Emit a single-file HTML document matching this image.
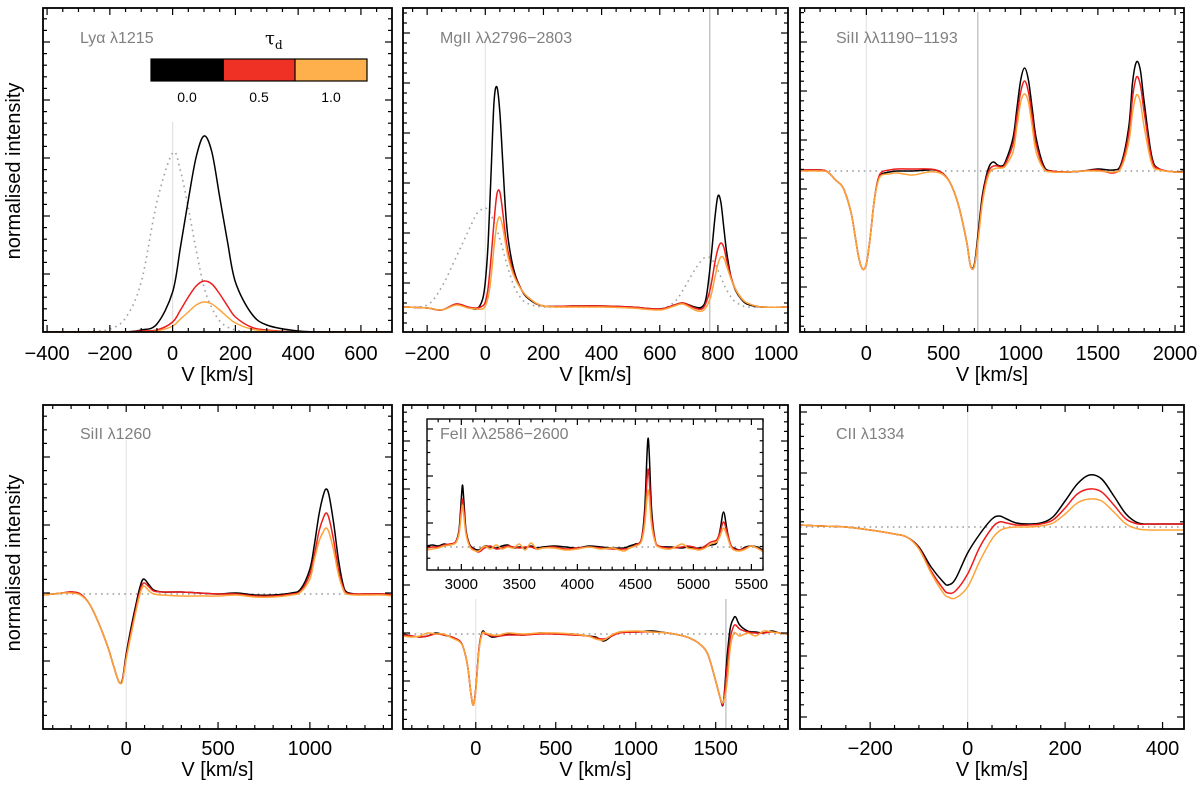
<!DOCTYPE html>
<html><head><meta charset="utf-8"><title>Line profiles</title>
<style>
html,body{margin:0;padding:0;background:#fff;}
svg{display:block;font-family:"Liberation Sans",Arial,sans-serif;}
</style></head>
<body>
<svg id="fig" width="1200" height="791" viewBox="0 0 1200 791" xmlns="http://www.w3.org/2000/svg">
<rect x="0" y="0" width="1200" height="791" fill="#fff"/>
<text transform="translate(20,171) rotate(-90)" text-anchor="middle" font-size="20">normalised intensity</text>
<text transform="translate(20,563) rotate(-90)" text-anchor="middle" font-size="20">normalised intensity</text>
<g id="legend">
  <text x="265" y="44" font-size="18" font-family="'DejaVu Serif',serif">τ<tspan font-size="12" dy="5">d</tspan></text>
  <rect x="151" y="59" width="73" height="22" fill="#000"/>
  <rect x="224" y="59" width="71" height="22" fill="#ee3124"/>
  <rect x="295" y="59" width="72" height="22" fill="#fdb04b"/>
  <rect x="151" y="59" width="216" height="22" fill="none" stroke="#000" stroke-width="1.2"/>
  <line x1="295" y1="59" x2="295" y2="81" stroke="#000" stroke-width="1.2"/>
  <text x="187" y="102" font-size="14" text-anchor="middle">0.0</text>
  <text x="259" y="102" font-size="14" text-anchor="middle">0.5</text>
  <text x="331" y="102" font-size="14" text-anchor="middle">1.0</text>
</g>
</svg>
<script>
// ---------- Panel 1: Lya ----------
const vP1=[-413,-300,-250,-200,-150,-100,-50,0,25,50,75,100,125,150,175,200,250,300,400,500,699];
const blackP1=[0,0,0,0,0,.02,.08,.4,.85,1.32,1.75,1.96,1.8,1.35,.9,.5,.19,.07,.01,0,0];
const redP1=[0,0,0,0,0,.01,.02,.1,.22,.35,.46,.51,.48,.38,.26,.15,.05,.02,0,0,0];
const orangeP1=[0,0,0,0,0,0,.01,.06,.13,.2,.27,.30,.28,.22,.15,.09,.03,.01,0,0,0];
const dotP1=[0,0,.01,.03,.14,.5,1.3,1.79,1.61,1.24,.82,.45,.24,.11,.05,.02,0,0,0,0,0];
const ticksP1=[-400,-200,0,200,400,600];
// ---------- Panel 2: MgII ----------
const vP2=[-283,-200,-150,-100,-60,-30,-10,0,10,20,30,40,50,60,70,80,100,125,150,200,300,400,500,600,650,680,720,745,760,775,790,800,810,820,830,845,860,880,900,950,1041];
const blackP2=[.25,.24,.22,.28,.25,.23,.32,.5,.9,1.6,2.3,2.45,2.2,1.7,1.2,.9,.6,.42,.33,.26,.26,.26,.25,.23,.27,.29,.25,.25,.35,.7,1.15,1.36,1.3,1.05,.8,.55,.42,.33,.28,.25,.25];
const redP2=[.25,.24,.22,.28,.25,.24,.26,.3,.45,.75,1.1,1.38,1.4,1.2,.95,.78,.57,.42,.34,.26,.26,.26,.25,.23,.27,.29,.24,.23,.3,.45,.7,.83,.89,.85,.72,.55,.43,.34,.29,.25,.25];
const orangeP2=[.25,.24,.22,.27,.24,.23,.23,.26,.35,.55,.85,1.08,1.15,1.05,.88,.73,.55,.42,.34,.26,.25,.25,.24,.22,.26,.28,.22,.21,.25,.35,.55,.68,.75,.74,.66,.53,.43,.34,.29,.25,.25];
const dotP2=[.25,.27,.45,.75,1.0,1.18,1.23,1.24,1.22,1.17,1.1,1.02,.93,.83,.72,.62,.45,.33,.28,.25,.25,.25,.24,.23,.3,.42,.62,.72,.75,.74,.68,.62,.55,.48,.42,.35,.3,.27,.25,.25,.25];
const ticksP2=[-200,0,200,400,600,800,1000];
// ---------- Panel 3: SiII 1190-1193 ----------
const vP3=[-430,-300,-250,-200,-150,-100,-75,-50,-25,0,25,50,75,100,150,200,300,400,450,500,550,600,650,675,700,725,750,775,800,825,850,875,900,950,975,1000,1025,1050,1075,1100,1150,1200,1300,1400,1500,1600,1650,1700,1725,1750,1775,1800,1850,1900,2000,2058];
const blackP3=[1.62,1.62,1.60,1.52,1.44,1.20,.98,.75,.63,.68,.95,1.3,1.52,1.58,1.6,1.61,1.61,1.62,1.62,1.58,1.47,1.25,.9,.66,.68,1.0,1.35,1.55,1.67,1.70,1.67,1.66,1.7,1.94,2.23,2.52,2.64,2.52,2.23,1.94,1.66,1.61,1.6,1.61,1.63,1.62,1.68,2.05,2.5,2.7,2.62,2.3,1.75,1.63,1.6,1.61];
const redP3=[1.62,1.62,1.60,1.52,1.44,1.20,.98,.75,.63,.68,.95,1.3,1.52,1.6,1.62,1.63,1.63,1.63,1.62,1.58,1.47,1.25,.9,.66,.66,.95,1.3,1.52,1.63,1.66,1.66,1.65,1.68,1.88,2.15,2.4,2.51,2.4,2.15,1.88,1.64,1.61,1.6,1.61,1.62,1.59,1.66,1.98,2.35,2.55,2.47,2.2,1.72,1.63,1.6,1.6];
const orangeP3=[1.61,1.61,1.6,1.52,1.44,1.2,.98,.75,.63,.68,.95,1.3,1.5,1.57,1.58,1.59,1.57,1.6,1.6,1.57,1.47,1.25,.9,.66,.66,.93,1.27,1.48,1.6,1.63,1.64,1.64,1.66,1.8,2.05,2.3,2.38,2.3,2.05,1.8,1.63,1.6,1.6,1.61,1.61,1.6,1.64,1.9,2.2,2.37,2.3,2.05,1.68,1.62,1.6,1.6];
const contP3=1.61;
const ticksP3=[0,500,1000,1500,2000];
// ---------- Panel 4: SiII 1260 ----------
const vP4=[-453,-400,-350,-300,-250,-200,-150,-100,-75,-50,-35,-20,0,25,50,75,95,125,150,200,300,400,500,600,700,800,900,950,1000,1025,1050,1075,1090,1105,1130,1155,1180,1200,1250,1300,1400,1447];
const blackP4=[1.34,1.35,1.36,1.37,1.35,1.25,1.06,.82,.67,.52,.46,.5,.75,1.0,1.22,1.42,1.50,1.44,1.39,1.37,1.37,1.36,1.35,1.36,1.34,1.34,1.36,1.4,1.6,1.85,2.15,2.35,2.40,2.33,2.05,1.7,1.45,1.37,1.35,1.35,1.35,1.34];
const redP4=[1.34,1.35,1.36,1.37,1.35,1.25,1.06,.82,.67,.52,.46,.49,.72,.96,1.18,1.38,1.46,1.42,1.38,1.37,1.37,1.36,1.35,1.35,1.33,1.33,1.35,1.38,1.55,1.75,1.98,2.12,2.16,2.1,1.88,1.6,1.42,1.36,1.35,1.35,1.35,1.34];
const orangeP4=[1.34,1.35,1.36,1.36,1.34,1.25,1.06,.82,.67,.52,.46,.48,.7,.93,1.15,1.35,1.43,1.38,1.35,1.34,1.33,1.33,1.33,1.34,1.32,1.32,1.34,1.37,1.5,1.7,1.88,1.98,2.01,1.96,1.78,1.55,1.40,1.35,1.34,1.34,1.34,1.33];
const contP4=1.35;
const ticksP4=[0,500,1000];
// ---------- Panel 5: FeII ----------
const vP5=[-455,-400,-350,-300,-250,-200,-150,-100,-75,-50,-30,-15,0,20,40,60,100,150,200,300,400,500,600,700,750,800,850,900,1000,1100,1200,1300,1350,1400,1450,1500,1530,1548,1570,1590,1610,1625,1650,1700,1750,1800,1850,1900,1952];
const blackP5=[.95,.93,.92,.93,.96,.94,.92,.88,.8,.62,.35,.24,.4,.8,.97,.96,.92,.93,.95,.94,.96,.95,.95,.93,.92,.88,.93,.97,.97,.98,.96,.93,.9,.85,.75,.48,.3,.26,.7,1.0,1.1,1.12,1.04,.98,.97,.96,.98,.96,.95];
const redP5=[.94,.93,.92,.93,.95,.94,.92,.88,.8,.62,.35,.24,.4,.8,.96,.95,.93,.93,.94,.94,.95,.95,.94,.93,.91,.9,.93,.96,.97,.97,.96,.93,.9,.85,.75,.48,.3,.26,.6,.9,1.02,1.04,1.0,.97,.96,.96,.97,.96,.95];
const orangeP5=[.93,.92,.93,.96,.95,.95,.91,.87,.8,.62,.35,.24,.38,.78,.95,.96,.94,.94,.96,.95,.96,.96,.95,.93,.9,.89,.94,.97,.98,.97,.96,.93,.9,.85,.75,.48,.3,.27,.45,.8,.95,.96,.93,.96,.93,.98,.97,.96,.95];
const contP5=0.95;
const ticksP5=[0,500,1000,1500];
// ---------- Inset: FeII long range ----------
const vIn=[2704,2750,2800,2850,2900,2950,2980,3000,3010,3020,3040,3070,3100,3150,3200,3250,3300,3350,3400,3450,3500,3550,3600,3650,3700,3800,3900,4000,4100,4200,4300,4400,4450,4500,4550,4580,4600,4610,4620,4640,4670,4700,4800,4900,4950,5000,5050,5100,5150,5200,5230,5260,5290,5320,5350,5400,5450,5500,5550,5600];
const blackIn=[.24,.25,.24,.26,.25,.28,.4,.72,.85,.72,.4,.26,.22,.2,.24,.23,.22,.24,.25,.22,.23,.22,.24,.22,.23,.24,.23,.22,.24,.23,.22,.22,.24,.26,.3,.6,1.15,1.32,1.15,.6,.3,.24,.23,.22,.23,.22,.22,.23,.25,.27,.4,.58,.4,.25,.22,.2,.23,.24,.23,.2];
const redIn=[.22,.23,.23,.25,.26,.28,.38,.62,.71,.62,.38,.25,.21,.18,.22,.24,.21,.22,.24,.23,.22,.23,.23,.21,.22,.23,.21,.22,.23,.22,.21,.21,.22,.25,.3,.52,.9,1.01,.9,.52,.3,.24,.22,.23,.24,.23,.21,.24,.28,.3,.38,.48,.38,.26,.21,.2,.22,.24,.22,.19];
const orangeIn=[.2,.21,.22,.24,.25,.27,.36,.56,.65,.56,.36,.24,.2,.19,.24,.21,.25,.21,.23,.22,.26,.2,.27,.21,.22,.22,.2,.21,.23,.21,.22,.19,.22,.24,.28,.45,.72,.80,.72,.45,.28,.23,.21,.26,.22,.21,.2,.22,.26,.28,.34,.42,.34,.24,.2,.19,.21,.24,.22,.18];
const contIn=0.23;
const ticksIn=[3000,3500,4000,4500,5000,5500];
// ---------- Panel 6: CII ----------
const vP6=[-344,-300,-250,-200,-150,-125,-100,-75,-50,-40,-25,0,25,50,65,80,100,125,150,175,200,225,250,275,300,325,350,375,400,444];
const blackP6=[2.04,2.03,2.02,1.99,1.95,1.92,1.82,1.62,1.47,1.44,1.5,1.76,1.95,2.1,2.13,2.1,2.06,2.05,2.06,2.12,2.28,2.45,2.54,2.5,2.33,2.15,2.06,2.05,2.05,2.05];
const redP6=[2.04,2.03,2.02,1.99,1.95,1.92,1.81,1.58,1.40,1.36,1.38,1.55,1.82,2.01,2.07,2.06,2.04,2.04,2.05,2.09,2.21,2.35,2.40,2.37,2.24,2.1,2.05,2.05,2.05,2.05];
const orangeP6=[2.04,2.03,2.02,1.99,1.95,1.92,1.8,1.56,1.36,1.32,1.31,1.42,1.68,1.9,1.98,2.01,2.02,2.02,2.03,2.06,2.15,2.26,2.30,2.28,2.17,2.05,2.0,1.99,1.99,1.99];
const contP6=2.02;
const ticksP6=[-200,0,200,400];

const NS="http://www.w3.org/2000/svg";
const svg=document.getElementById('fig');
const legend=document.getElementById('legend');
function mk(tag,attrs,parent){const e=document.createElementNS(NS,tag);for(const k in attrs)e.setAttribute(k,attrs[k]);(parent||svg).appendChild(e);return e;}
function fmt(t){return t<0?'\u2212'+Math.abs(t):String(t);}
function smoothPath(pts){
  let d='M'+pts[0][0].toFixed(2)+','+pts[0][1].toFixed(2);
  for(let i=0;i<pts.length-1;i++){
    const p0=pts[Math.max(0,i-1)],p1=pts[i],p2=pts[i+1],p3=pts[Math.min(pts.length-1,i+2)];
    const c1x=p1[0]+(p2[0]-p0[0])/6,c1y=p1[1]+(p2[1]-p0[1])/6;
    const c2x=p2[0]-(p3[0]-p1[0])/6,c2y=p2[1]-(p3[1]-p1[1])/6;
    d+='C'+c1x.toFixed(2)+','+c1y.toFixed(2)+' '+c2x.toFixed(2)+','+c2y.toFixed(2)+' '+p2[0].toFixed(2)+','+p2[1].toFixed(2);
  }
  return d;
}
let clipId=0;
function panel(c){
  const g=mk('g',{});
  
  
  const xs=v=>c.x0+(v-c.xd[0])/(c.xd[1]-c.xd[0])*(c.x1-c.x0);
  const ys=v=>c.y1-(v-c.yd[0])/(c.yd[1]-c.yd[0])*(c.y1-c.y0);
  if(c.bg){mk('rect',{x:c.x0,y:c.y0,width:c.x1-c.x0,height:c.y1-c.y0,fill:'#fff'},g);}
  const id='clip'+(clipId++);
  const cp=mk('clipPath',{id:id},g);
  mk('rect',{x:c.x0,y:c.y0,width:c.x1-c.x0,height:c.y1-c.y0},cp);
  const inner=mk('g',{'clip-path':'url(#'+id+')'},g);
  (c.vlines||[]).forEach(vl=>{
    const l=mk('line',{x1:xs(vl.v),x2:xs(vl.v),y1:vl.top,y2:c.y1,stroke:vl.color,'stroke-width':1.2},inner);
    
    
  });
  if(c.cont!==undefined){
    const l=mk('line',{x1:c.x0,x2:c.x1,y1:ys(c.cont),y2:ys(c.cont),stroke:'#9a9a9a','stroke-width':1.6,'stroke-dasharray':'1.6 4.2'},inner);
    
    
  }
  c.series.forEach(s=>{
    const pts=s.vals.map((y,i)=>[xs(s.v[i]),ys(y)]);
    const p=mk('path',{d:smoothPath(pts),fill:'none',stroke:s.color,'stroke-width':s.w||1.5,'stroke-linejoin':'round'},inner);
    if(s.dash)p.setAttribute('stroke-dasharray',s.dash);
    
    
  });
  // ticks
  const tg=mk('g',{stroke:'#000','stroke-width':1.2},g);
  const ML=c.tl||7,ml=c.tl?c.tl*0.55:4;
  for(let v=Math.ceil(c.xd[0]/c.xMin)*c.xMin;v<=c.xd[1];v+=c.xMin){
    const major=Math.abs(v/c.xMaj-Math.round(v/c.xMaj))<1e-6;const L=major?ML:ml;const x=xs(v);
    mk('line',{x1:x,x2:x,y1:c.y1,y2:c.y1-L},tg);mk('line',{x1:x,x2:x,y1:c.y0,y2:c.y0+L},tg);
  }
  const yStep=c.yMaj/c.yMinN;
  for(let k=Math.ceil((c.yd[0]-c.yOff)/yStep);c.yOff+k*yStep<=c.yd[1];k++){
    const v=c.yOff+k*yStep;const major=k%c.yMinN===0;const L=major?ML:ml;const y=ys(v);
    if(y<c.y0+1||y>c.y1-1)continue;
    mk('line',{x1:c.x0,x2:c.x0+L,y1:y,y2:y},tg);mk('line',{x1:c.x1,x2:c.x1-L,y1:y,y2:y},tg);
  }
  const fr=mk('rect',{x:c.x0,y:c.y0,width:c.x1-c.x0,height:c.y1-c.y0,fill:'none',stroke:'#000','stroke-width':c.fw||1.8},g);
  
  
  c.ticks.forEach(t=>{
    const tx=mk('text',{x:xs(t),y:c.tickY,'font-size':c.tfs||20,'text-anchor':'middle'},g);
    tx.textContent=fmt(t);
    
    
  });
  if(c.xlabelY){
    const xl=mk('text',{x:(c.x0+c.x1)/2,y:c.xlabelY,'font-size':20,'text-anchor':'middle'},g);
    xl.textContent='V [km/s]';
    
    
  }
  const tt=mk('text',{x:c.titleX,y:c.titleY,'font-size':c.titleFs||16,fill:'#808080'},g);
  tt.textContent=c.title;
  
  
  return g;
}
const BLK='#000',RED='#ee1c1c',ORG='#ffa338',DOT='#a0a0a0';
function ser(v,b,r,o,d){const a=[];if(d)a.push({v:v,vals:d,color:DOT,dash:'1.6 4',w:1.6,name:'intrinsic-profile'});
 a.push({v:v,vals:b,color:BLK,name:'series-tau-0'});a.push({v:v,vals:r,color:RED,name:'series-tau-0.5'});a.push({v:v,vals:o,color:ORG,name:'series-tau-1'});return a;}

panel({name:'panel-lya',x0:43,x1:392,y0:8,y1:332,xd:[-413,699],yd:[0,3.24],xMaj:200,xMin:50,yMaj:.58,yOff:0,yMinN:5,
  ticks:ticksP1,tickY:360,xlabelY:381,title:'Lyα λ1215',titleX:80,titleY:43,
  vlines:[{v:0,top:122,color:'#e2e2e2'}],series:ser(vP1,blackP1,redP1,orangeP1,dotP1)});
panel({name:'panel-mgii',x0:403,x1:788,y0:8,y1:332,xd:[-283,1041],yd:[0,3.24],xMaj:200,xMin:50,yMaj:.5,yOff:-.01,yMinN:5,
  ticks:ticksP2,tickY:360,xlabelY:381,title:'MgII λλ2796−2803',titleX:440,titleY:43,
  vlines:[{v:0,top:40,color:'#e6e6e6'},{v:772,top:8,color:'#b8b8b8'}],series:ser(vP2,blackP2,redP2,orangeP2,dotP2)});
panel({name:'panel-siii-1190',x0:800,x1:1184,y0:8,y1:332,xd:[-430,2058],yd:[0,3.24],xMaj:500,xMin:100,yMaj:.49,yOff:.45,yMinN:5,
  ticks:ticksP3,tickY:360,xlabelY:381,title:'SiII λλ1190−1193',titleX:836,titleY:43,cont:contP3,
  vlines:[{v:0,top:12,color:'#e6e6e6'},{v:722,top:12,color:'#b8b8b8'}],series:ser(vP3,blackP3,redP3,orangeP3)});
panel({name:'panel-siii-1260',x0:43,x1:392,y0:405,y1:729,xd:[-453,1447],yd:[0,3.24],xMaj:500,xMin:100,yMaj:.68,yOff:0,yMinN:5,
  ticks:ticksP4,tickY:755,xlabelY:776,title:'SiII λ1260',titleX:80,titleY:439,cont:contP4,
  vlines:[{v:0,top:440,color:'#e6e6e6'}],series:ser(vP4,blackP4,redP4,orangeP4)});
panel({name:'panel-feii',x0:403,x1:788,y0:405,y1:729,xd:[-455,1952],yd:[0,3.24],xMaj:500,xMin:100,yMaj:.48,yOff:0,yMinN:5,
  ticks:ticksP5,tickY:755,xlabelY:776,title:'',titleX:0,titleY:0,cont:contP5,
  vlines:[{v:0,top:599,color:'#e6e6e6'},{v:1564,top:599,color:'#b8b8b8'}],series:ser(vP5,blackP5,redP5,orangeP5)});
panel({name:'panel-feii-inset',bg:true,x0:427,x1:763,y0:419,y1:570,xd:[2704,5600],yd:[0,1.51],xMaj:500,xMin:100,yMaj:.47,yOff:0,yMinN:4,tl:6,fw:1.4,
  ticks:ticksIn,tickY:589,tfs:15,title:'FeII λλ2586−2600',titleX:440,titleY:439,cont:contIn,
  vlines:[],series:ser(vIn,blackIn,redIn,orangeIn)});
panel({name:'panel-cii',x0:800,x1:1184,y0:405,y1:729,xd:[-344,444],yd:[0,3.24],xMaj:200,xMin:50,yMaj:.61,yOff:.12,yMinN:5,
  ticks:ticksP6,tickY:755,xlabelY:776,title:'CII λ1334',titleX:836,titleY:439,cont:contP6,
  vlines:[{v:0,top:408,color:'#e6e6e6'}],series:ser(vP6,blackP6,redP6,orangeP6)});
svg.appendChild(legend);
</script>
</body></html>
